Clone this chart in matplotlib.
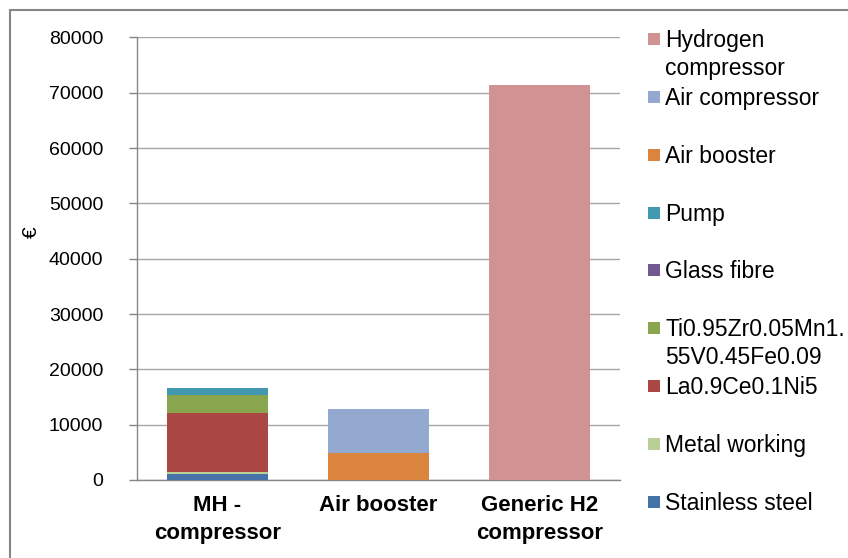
import numpy as np
import matplotlib.pyplot as plt
from matplotlib.patches import Rectangle

plt.rcParams['font.family'] = ['Liberation Sans', 'DejaVu Sans']

# categories on the x axis
categories = ['MH -\ncompressor', 'Air booster', 'Generic H2\ncompressor']

# stacked series, bottom to top (values in EUR per category)
series_names = ['Stainless steel', 'Metal working', 'La0.9Ce0.1Ni5',
                'Ti0.95Zr0.05Mn1.\n55V0.45Fe0.09', 'Glass fibre', 'Pump',
                'Air booster', 'Air compressor', 'Hydrogen\ncompressor']
stainless_steel = [1100, 0, 0]
metal_working = [420, 0, 0]
la_ce_ni = [10550, 0, 0]
ti_zr_mn = [3250, 0, 0]
glass_fibre = [100, 0, 0]
pump = [1150, 0, 0]
air_booster = [0, 4930, 0]
air_compressor = [0, 7900, 0]
hydrogen_compressor = [0, 0, 71350]

colors = ['#4572A7', '#B9CF96', '#AA4643', '#89A54E', '#71588F',
          '#4198AF', '#DB843D', '#93A9CF', '#D19392']

values = [stainless_steel, metal_working, la_ce_ni, ti_zr_mn, glass_fibre,
          pump, air_booster, air_compressor, hydrogen_compressor]

fig = plt.figure(figsize=(8.48, 5.58), dpi=100)
ax = fig.add_axes([136.7 / 848, 1 - 480 / 558, (620 - 136.7) / 848, (480 - 37.4) / 558])

x = np.arange(len(categories))
bottom = np.zeros(len(categories))
for name, vals, col in zip(series_names, values, colors):
    vals = np.array(vals, dtype=float)
    ax.bar(x, vals, width=0.63, bottom=bottom, color=col, zorder=3)
    bottom += vals

ax.set_xlim(-0.5, 2.5)
ax.set_ylim(0, 80000)
ax.set_yticks(np.arange(0, 80001, 10000))
ax.yaxis.grid(True, color='#A6A6A6', linewidth=1.0, zorder=0)
ax.set_xticks(x)
ax.set_xticklabels(categories, fontsize=16, fontweight='bold', va='top',
                   linespacing=1.4)
ax.tick_params(axis='x', length=0, pad=11)
ax.tick_params(axis='y', length=6, width=1, color='#868686', labelsize=14, pad=18)
for s in ['top', 'right']:
    ax.spines[s].set_visible(False)
for s in ['left', 'bottom']:
    ax.spines[s].set_color('#868686')
    ax.spines[s].set_linewidth(1.0)

fig.text(31 / 848, 1 - 232 / 558, '€', rotation=90, fontsize=15,
         ha='center', va='center')

# legend drawn by hand, top entry is the last series
ys = np.linspace(39, 502, len(series_names))
for i, (name, col) in enumerate(zip(series_names[::-1], colors[::-1])):
    yc = ys[i]
    fig.patches.append(Rectangle((648 / 848, 1 - (yc + 6) / 558), 12 / 848, 12 / 558,
                                 transform=fig.transFigure, facecolor=col,
                                 edgecolor='none', figure=fig))
    fig.text(665 / 848, 1 - (yc - 10) / 558, name, fontsize=16.5, ha='left',
             va='top', linespacing=1.25)

# chart frame
fig.patches.append(Rectangle((10 / 848, -0.1), 1.2, 1 - 10 / 558 + 0.1,
                             transform=fig.transFigure, facecolor='none',
                             edgecolor='#868686', linewidth=1.5, figure=fig))

fig.savefig('out.png', dpi=100)
